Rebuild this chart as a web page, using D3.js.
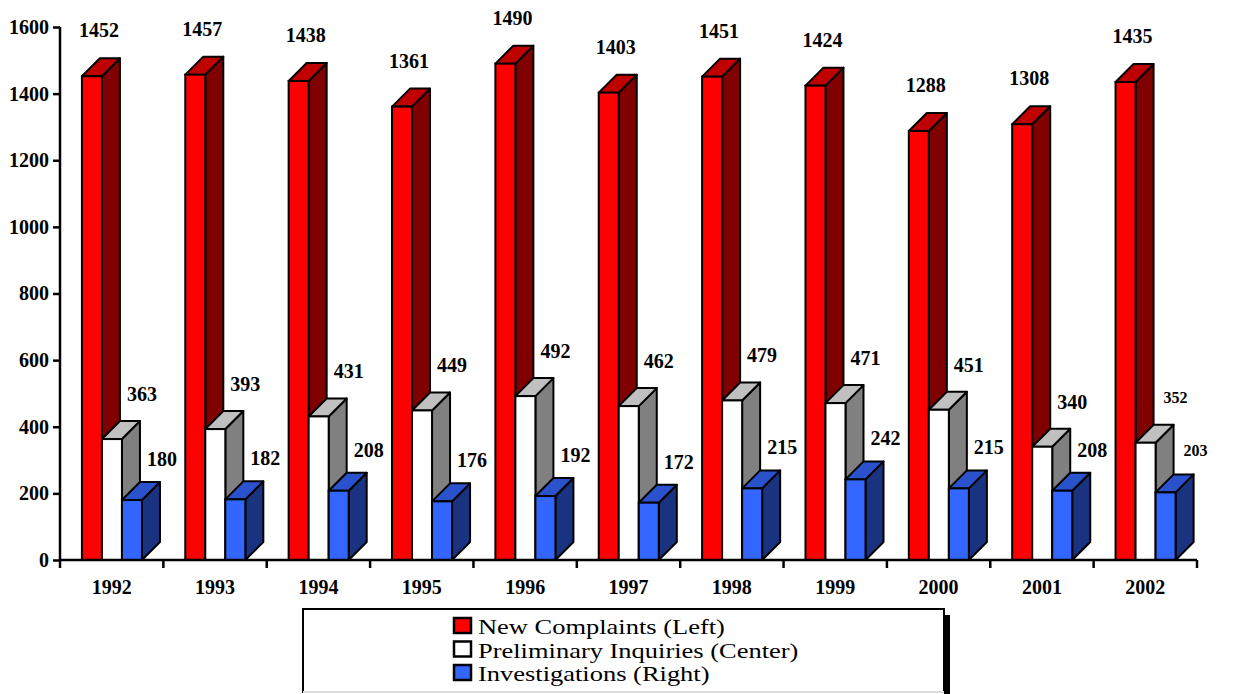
<!DOCTYPE html>
<html>
<head>
<meta charset="utf-8">
<script src="https://cdn.jsdelivr.net/npm/d3@7"></script>
<style>
  body { margin: 0; background: #fff; }
  svg { display: block; }
</style>
</head>
<body>
<div id="chart"></div>
<script>
// ── Data ────────────────────────────────────────────────────
const years = ['1992', '1993', '1994', '1995', '1996', '1997', '1998', '1999', '2000', '2001', '2002'];
const newComplaints   = [1452, 1457, 1438, 1361, 1490, 1403, 1451, 1424, 1288, 1308, 1435];
const prelimInquiries = [363, 393, 431, 449, 492, 462, 479, 471, 451, 340, 352];
const investigations  = [180, 182, 208, 176, 192, 172, 215, 242, 215, 208, 203];
const yTicks = [0, 200, 400, 600, 800, 1000, 1200, 1400, 1600];
const legendLabels = ['New Complaints (Left)', 'Preliminary Inquiries (Center)', 'Investigations (Right)'];

const series = [
  { key: 'new',    values: newComplaints,   front: '#ff0000', top: '#c00000', side: '#800000', lift: 39 },
  { key: 'prelim', values: prelimInquiries, front: '#ffffff', top: '#c0c0c0', side: '#808080', lift: 38 },
  { key: 'inv',    values: investigations,  front: '#3366ff', top: '#2a52cc', side: '#1a3380', lift: 34 }
];

const width = 1236, height = 694;
const font = "'Liberation Serif', 'Times New Roman', serif";
const depth = 18;

const svg = d3.select('#chart').append('svg')
  .attr('width', width).attr('height', height);

svg.append('rect').attr('width', width).attr('height', height).attr('fill', '#fff');

// ── Scales ──────────────────────────────────────────────────
const x = d3.scaleBand().domain(years).range([60, 1197]).paddingInner(0).paddingOuter(0);
const bw = x.bandwidth();
const xs = d3.scaleBand().domain(series.map(s => s.key))
  .range([0.212 * bw, 0.793 * bw]);
const w = xs.bandwidth();

const y = d3.scaleLinear().domain([0, 1600]).range([560, 27]);

// ── Bars ────────────────────────────────────────────────────
const groups = svg.append('g').selectAll('g')
  .data(years)
  .join('g')
  .attr('transform', d => `translate(${x(d)},0)`);

groups.each(function(yr, i) {
  const g = d3.select(this);
  series.forEach((s, si) => {
    const v = s.values[i];
    const x0 = xs(s.key), x1 = x0 + w;
    const yt = y(v), yb = y(0);

    // side face
    g.append('path')
      .attr('d', `M${x1},${yt}L${x1 + depth},${yt - depth}L${x1 + depth},${yb - depth}L${x1},${yb}Z`)
      .attr('fill', s.side).attr('stroke', '#000').attr('stroke-width', 2).attr('stroke-linejoin', 'round');
    // top face
    g.append('path')
      .attr('d', `M${x0},${yt}L${x0 + depth},${yt - depth}L${x1 + depth},${yt - depth}L${x1},${yt}Z`)
      .attr('fill', s.top).attr('stroke', '#000').attr('stroke-width', 2).attr('stroke-linejoin', 'round');
    // front face
    g.append('rect')
      .attr('x', x0).attr('y', yt)
      .attr('width', w).attr('height', yb - yt)
      .attr('fill', s.front).attr('stroke', '#000').attr('stroke-width', 2);

    // value label
    const small = i === years.length - 1 && si > 0;
    const lx = si === 0 ? x1 - 3 : x1 + depth + 2;
    g.append('text')
      .attr('x', lx)
      .attr('y', yt - s.lift + (small ? -2 : 0))
      .attr('text-anchor', 'middle')
      .attr('font-family', font)
      .attr('font-weight', 'bold')
      .attr('font-size', small ? '16px' : '20px')
      .text(v);
  });
});

// ── Axes ────────────────────────────────────────────────────
const yAxis = svg.append('g')
  .attr('transform', 'translate(60,0)')
  .call(d3.axisLeft(y).tickValues(yTicks).tickFormat(d3.format('d'))
    .tickSize(7).tickSizeOuter(0).tickPadding(4));
yAxis.select('.domain').remove();
yAxis.selectAll('.tick line').attr('stroke', '#000').attr('stroke-width', 2.5);
yAxis.selectAll('text')
  .attr('font-family', font).attr('font-weight', 'bold').attr('font-size', '20px').attr('fill', '#000');

svg.append('line')
  .attr('x1', 60).attr('x2', 60).attr('y1', y(1600)).attr('y2', 568)
  .attr('stroke', '#000').attr('stroke-width', 2.5);

svg.append('line')
  .attr('x1', 60).attr('x2', x.range()[1]).attr('y1', y(0)).attr('y2', y(0))
  .attr('stroke', '#000').attr('stroke-width', 2.5);

const edges = years.slice(1).map(d => x(d)).concat([x.range()[1]]);
svg.append('g').selectAll('line')
  .data(edges)
  .join('line')
  .attr('x1', d => d).attr('x2', d => d)
  .attr('y1', y(0)).attr('y2', y(0) + 8)
  .attr('stroke', '#000').attr('stroke-width', 2.5);

svg.append('g').selectAll('text')
  .data(years)
  .join('text')
  .attr('x', d => x(d) + bw / 2)
  .attr('y', 594)
  .attr('text-anchor', 'middle')
  .attr('font-family', font).attr('font-weight', 'bold').attr('font-size', '20px')
  .text(d => d);

// ── Legend ──────────────────────────────────────────────────
const legend = svg.append('g');
// drop shadow on the right
legend.append('rect')
  .attr('x', 944).attr('y', 615).attr('width', 6).attr('height', 90)
  .attr('fill', '#000');
legend.append('rect')
  .attr('x', 303).attr('y', 609).attr('width', 641).attr('height', 83)
  .attr('fill', '#fff').attr('stroke', '#000').attr('stroke-width', 2);
legend.append('line')
  .attr('x1', 303).attr('x2', 944).attr('y1', 692).attr('y2', 692)
  .attr('stroke', '#ddd').attr('stroke-width', 2);

const rowPitch = 23.5;
legendLabels.forEach((lab, i) => {
  legend.append('rect')
    .attr('x', 454).attr('y', 618 + i * rowPitch).attr('width', 17).attr('height', 15)
    .attr('fill', series[i].front).attr('stroke', '#000').attr('stroke-width', 2.5);
  const t = legend.append('text')
    .attr('x', 478).attr('y', 634 + i * rowPitch)
    .attr('font-family', font).attr('font-size', '21px')
    .text(lab);
  const len = t.node().getComputedTextLength();
  t.attr('textLength', len * 1.26).attr('lengthAdjust', 'spacingAndGlyphs');
});
</script>
</body>
</html>
